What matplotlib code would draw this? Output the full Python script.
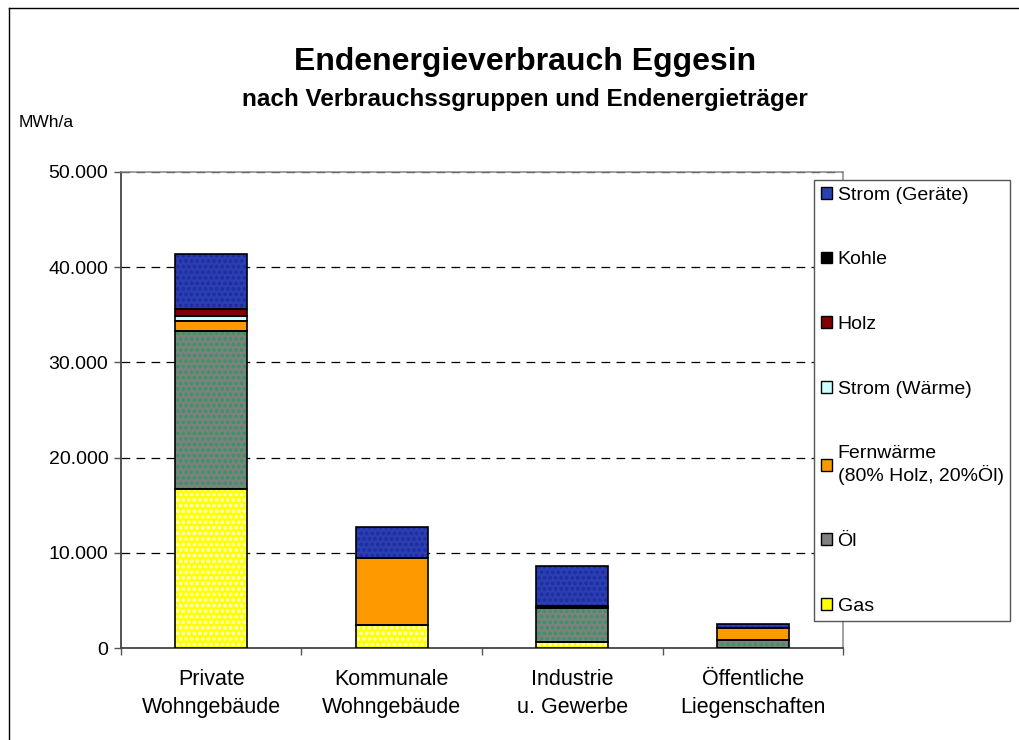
import matplotlib
matplotlib.use("Agg")
import matplotlib.pyplot as plt
import numpy as np
from matplotlib.patches import Patch
from matplotlib.lines import Line2D
from matplotlib.ticker import FuncFormatter

plt.rcParams["font.family"] = ["Liberation Sans", "DejaVu Sans"]
plt.rcParams["hatch.linewidth"] = 1.8

categories = ["Private\nWohngebäude", "Kommunale\nWohngebäude",
              "Industrie\nu. Gewerbe", "Öffentliche\nLiegenschaften"]

# stacked from bottom to top, MWh/a
gas = [16700, 2400, 600, 0]
oel = [16600, 0, 3600, 850]
fernwaerme = [1100, 7100, 0, 1250]
strom_waerme = [500, 0, 200, 0]
holz = [700, 0, 0, 0]
kohle = [0, 0, 0, 0]
strom_geraete = [5800, 3200, 4250, 400]

series = [
    ("Gas", gas, "#FFFF00", "#FFFFD0", "..."),
    ("Öl", oel, "#808080", "#2E9960", "..."),
    ("Fernwärme\n(80% Holz, 20%Öl)", fernwaerme, "#FF9900", None, None),
    ("Strom (Wärme)", strom_waerme, "#CCFFFF", None, None),
    ("Holz", holz, "#800000", None, None),
    ("Kohle", kohle, "#000000", None, None),
    ("Strom (Geräte)", strom_geraete, "#2B3FB5", "#1F2C99", "..."),
]

fig = plt.figure(figsize=(10.19, 7.40), dpi=100)
ax = fig.add_axes([0.1187, 0.1243, 0.7086, 0.6433])

x = np.arange(len(categories))
width = 0.4
bottom = np.zeros(len(categories))
handles = []
for label, vals, color, hcol, hatch in series:
    vals = np.array(vals, dtype=float)
    ax.bar(x, vals, width, bottom=bottom, color=color, linewidth=0, zorder=3)
    if hatch:
        ax.bar(x, vals, width, bottom=bottom, fill=False, hatch=hatch,
               edgecolor=hcol, linewidth=0, zorder=3)
    ax.bar(x, vals, width, bottom=bottom, fill=False, edgecolor="black",
           linewidth=1.2, zorder=4)
    bottom += vals
    handles.append(Patch(facecolor=color, edgecolor="black", linewidth=1.0,
                         label=label))

ax.set_xlim(-0.5, len(categories) - 0.5)
ax.set_ylim(0, 50000)
ax.set_yticks(np.arange(0, 50001, 10000))
ax.yaxis.set_major_formatter(FuncFormatter(lambda v, p: f"{int(v):,}".replace(",", ".")))
ax.tick_params(axis="y", labelsize=14, length=5, width=1, color="#555555", pad=4)
ax.set_xticks(x)
ax.set_xticklabels(categories, fontsize=15.5, linespacing=1.45)
ax.set_xticks(np.arange(-0.5, len(categories)), minor=True)
ax.tick_params(axis="x", which="major", length=0, pad=15)
ax.tick_params(axis="x", which="minor", length=5, width=1, color="#555555")
ax.grid(axis="y", color="black", linestyle=(0, (7, 5)), linewidth=0.9, zorder=1)
for s in ["left", "bottom"]:
    ax.spines[s].set_color("#444444")
    ax.spines[s].set_linewidth(1.3)
for s in ["top", "right"]:
    ax.spines[s].set_color("#888888")
    ax.spines[s].set_linewidth(1.1)

fig.text(0.515, 0.916, "Endenergieverbrauch Eggesin", ha="center", va="center",
         fontsize=23, fontweight="bold")
fig.text(0.515, 0.866, "nach Verbrauchssgruppen und Endenergieträger", ha="center",
         va="center", fontsize=17.5, fontweight="bold")
fig.text(0.018, 0.834, "MWh/a", ha="left", va="center", fontsize=12.5)

leg = fig.legend(handles=handles[::-1], loc="upper left",
                 bbox_to_anchor=(0.799, 0.757), fontsize=14, frameon=True,
                 fancybox=False, edgecolor="#555555", framealpha=1,
                 handlelength=0.55, handleheight=0.55, handletextpad=0.3,
                 labelspacing=2.45, borderpad=0.35, borderaxespad=0)
leg.get_frame().set_linewidth(1.0)

fig.add_artist(Line2D([9 / 1019, 9 / 1019], [0, 1 - 8 / 740], color="black",
                      linewidth=1.0, transform=fig.transFigure))
fig.add_artist(Line2D([9 / 1019, 1], [1 - 8 / 740, 1 - 8 / 740], color="black",
                      linewidth=1.0, transform=fig.transFigure))

fig.savefig("out.png", dpi=100)
